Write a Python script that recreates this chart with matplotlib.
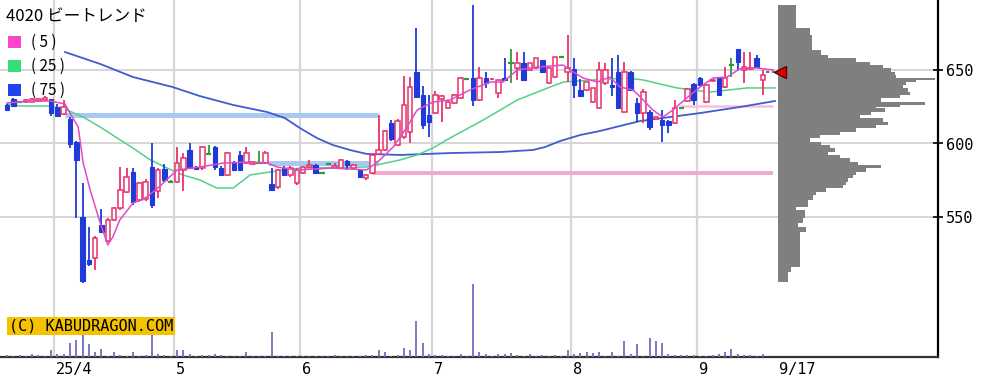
import matplotlib.pyplot as plt
from matplotlib.patches import Rectangle

plt.rcParams['font.family'] = ['Noto Sans CJK JP', 'DejaVu Sans']

W, H = 1003, 386

# daily candles (yen), oldest first
opens = [626, 630, 628, 628, 628.5, 629, 629.5, 630, 625, 620,
         617, 601, 550, 521, 522, 544.6, 534, 548, 556, 567,
         580.6, 561.6, 562, 584, 568, 582.7, 574, 574, 582, 595.6,
         584, 583.3, 593, 597.6, 583.3, 578.6, 586.7, 592.2, 586.7, 586,
         587, 586.7, 572.4, 570.4, 583.3, 578.6, 573.1, 580, 584, 585.4,
         580, 586, 583.5, 583.3, 588, 583.3, 582, 576.5, 580, 593,
         595.6, 614, 599, 604.4, 607.8, 648.6, 633, 619.4, 620.7, 630.5,
         624, 627.6, 631, 644, 644.6, 629.6, 644.6, 643.6, 634.4, 644.6,
         654.8, 651.4, 654.8, 650, 651.4, 656.8, 641.2, 645.2, 658.8, 648.6,
         650.7, 636.4, 636.4, 628.2, 624.1, 641.2, 639.8, 648.6, 621.4, 648.6,
         627.6, 620.7, 621.4, 617, 616, 615.3, 613.9, 624, 629, 640.5,
         644.6, 628.2, 642.8, 644.6, 638.4, 653.4, 664.3, 650, 650.7, 658.2,
         643.2]
highs = [627, 631, 628.5, 630.5, 631, 631, 632, 630.5, 627, 629.6,
         618, 601.5, 573, 543, 537, 555.4, 549, 557, 584, 583,
         583, 574, 576, 600, 583, 586, 575, 597.6, 593.5, 600,
         585, 598, 599, 598, 585, 594, 588, 595, 597.6, 588,
         595, 595, 583.3, 582.5, 585, 584.5, 583, 585, 588.8, 586,
         580.5, 586.5, 587, 589.5, 589, 586, 582.5, 579, 592.5, 619.4,
         609, 616, 617, 645.9, 645.2, 678.5, 639, 633, 636, 633,
         629, 634, 645, 644.5, 694, 652, 648.6, 644.5, 643.5, 658.2,
         664.3, 662, 662, 655, 658.5, 657, 652, 659, 659, 674,
         658.2, 643.9, 642, 638, 655.4, 655, 658, 660, 655.4, 649,
         631, 637, 622.8, 618.5, 622.8, 616, 629.6, 624.5, 637.5, 641,
         645, 640.5, 643.5, 645, 652, 658.2, 664.5, 662, 662.2, 660,
         650]
lows = [622, 625, 627.5, 627.5, 628, 628.5, 629, 619, 618, 619.5,
        597, 549, 505, 517, 514, 539, 533, 547, 555, 566,
        558, 560, 561, 556, 563, 574, 573, 573, 568, 583,
        582, 582, 592, 582, 578, 578, 582, 581, 586, 585.5,
        586.5, 586, 568, 569, 578, 577, 572, 579, 583.5, 579.5,
        579.5, 585.5, 583, 583, 582, 582, 577, 575, 579, 592.5,
        595, 602, 598, 603, 600.3, 631, 610, 604.4, 620, 614.6,
        623.5, 627, 630, 643.5, 625.5, 629, 637.8, 643.5, 631, 643,
        641.2, 643, 643, 649.5, 651, 648, 640.5, 644.5, 658.5, 641.8,
        631, 631.5, 636, 627.5, 623.5, 640, 632, 623.5, 620.5, 636,
        614.6, 614, 609.2, 616.5, 601, 607, 613.5, 623.5, 628.5, 626,
        639, 627.5, 643, 632, 638, 645, 650, 641, 650, 651.5,
        633]
closes = [623, 625.5, 628, 629.5, 630, 630.5, 631, 621, 618.7, 625,
          600, 589, 506.5, 518, 536, 540, 548, 556, 568.4, 577,
          560, 573, 574, 558, 582, 575, 574, 587, 590, 583.3,
          582.7, 597.6, 593, 584, 578.6, 593.5, 582, 582, 593.5, 587.4,
          587, 593.5, 568.4, 582, 578.6, 583.3, 582, 584, 585.4, 580,
          580, 586, 584.5, 588.8, 585.4, 585.4, 577.2, 578.6, 592.2, 595.6,
          608.5, 603.1, 615.3, 626.2, 638.4, 631.6, 612.6, 614.6, 633, 632,
          628.2, 633, 644.6, 644, 629.6, 644.6, 641.2, 644, 643.2, 643.2,
          654.8, 654.8, 643.2, 654.8, 658.2, 648.6, 651.4, 658.8, 658.8, 651.4,
          639.8, 632.3, 641.8, 637.8, 650, 650, 638.4, 624.1, 648.6, 636.4,
          620.7, 635, 611.2, 618, 612.6, 612.6, 624.1, 624, 637.1, 629.6,
          639.8, 639.8, 643.2, 633, 644.6, 653.4, 655.4, 652, 651.4, 652,
          646.6]
# volume (relative, thousand shares)
volume = [2, 1, 2, 1, 3, 2, 1, 7, 3, 3,
          14, 17, 22, 13, 5, 8, 1, 5, 2, 1,
          5, 1, 2, 22, 3, 2, 1, 7, 7, 3,
          1, 2, 2, 3, 2, 1, 1, 1, 5, 1,
          1, 1, 25, 1, 1, 1, 1, 1, 1, 1,
          1, 1, 2, 1, 1, 1, 1, 2, 2, 7,
          5, 1, 2, 9, 7, 36, 14, 3, 2, 2,
          1, 1, 3, 1, 73, 5, 3, 1, 3, 3,
          4, 2, 1, 3, 1, 2, 1, 2, 1, 7,
          3, 4, 5, 4, 5, 1, 5, 1, 16, 3,
          13, 1, 19, 16, 14, 3, 2, 2, 2, 2,
          1, 1, 2, 3, 5, 8, 3, 2, 2, 1,
          3]

# moving averages, sampled (day index, yen)
ma5_x = [0, 3.7, 6.8, 9.2, 10, 11.3, 12.1, 13.2, 14.8, 16, 16.8, 17.9, 20, 22.2, 24.3,
         27, 30.6, 34.3, 38.6, 41.3, 42.9, 46, 51.7, 57.1, 59.2, 61.3, 63.5, 65.1, 67.6,
         70.3, 73.5, 76.7, 78.7, 81, 84.1, 88.3, 89.4, 91.4, 93.7, 95.7, 97.3, 99.4, 101,
         102.5, 104.1, 105.7, 107.9, 110, 112.1, 114.3, 116.3, 119, 121.6]
ma5_y = [627.6, 628.9, 628.9, 626.9, 620.7, 611.2, 586.7, 568.4, 545.9, 531, 536.4, 548, 559.5, 563.6, 571.1,
         582, 584, 586.7, 587.4, 586.7, 584, 582, 583.3, 582, 588.8, 597.6, 611.2, 622.8, 628.2,
         629.6, 636.4, 641.8, 641.8, 650, 652, 653.4, 650, 644.6, 641.8, 645.2, 638.4, 636.4, 629.6,
         622.8, 618, 622.8, 631, 638.4, 644.6, 645.2, 650.7, 651.4, 650]
ma25_x = [0, 2.1, 6.8, 9.5, 12.1, 14.8, 17.5, 20, 22.7, 25.4, 27.9, 30.6, 33.3, 35.9, 38.6,
          41.7, 46.5, 57.1, 62.4, 65.1, 67.6, 70.3, 75.6, 81, 86.2, 88.3, 93, 98.4, 101,
          106.3, 111.6, 117.5, 121.9]
ma25_y = [626.9, 625.5, 625.5, 622.8, 618, 611.2, 603.7, 596.9, 589, 583.3, 578.6, 575.2, 569.7, 569.7, 578.6,
          580.6, 583.3, 584, 588.8, 592.2, 596.9, 603.7, 616, 629.6, 638.4, 641.8, 643.2, 644.6, 643.2,
          637.8, 635, 637.8, 637.8]
ma75_x = [9.2, 14.8, 20, 26.3, 30.6, 35.9, 41.3, 44.1, 46.5, 49.2, 51.7, 54.4, 57.1, 62.4,
          70.3, 78.3, 83.5, 85.4, 87.8, 91, 94.1, 100.5, 110, 116.3, 121.9]
ma75_y = [662.2, 654.1, 645.2, 638.4, 632.3, 626.2, 621.4, 617.3, 610.5, 603.7, 599, 595.6, 592.9, 592.2,
          593.5, 594.2, 595.6, 597.6, 601.7, 605.8, 608.5, 615.3, 620.7, 624.8, 628.9]

# horizontal levels: (start idx, end idx, price)
resist_levels = [(9.2, 58.9, 619.4), (41.4, 58.9, 586.7)]
support_levels = [(57.9, 121.6, 580.0), (106.8, 121.6, 625.5)]

# volume profile by price band (edges high -> low)
prof_edges = [694.2, 678.3, 673.8, 663.6, 660.2, 657.9, 655.7, 653.4, 651.1, 648.9,
              646.6, 644.3, 643.2, 642.1, 639.8, 637.5, 635.3, 633.0, 630.7, 628.5,
              626.2, 625.1, 623.9, 621.6, 619.4, 617.1, 614.9, 612.6, 610.3, 608.0,
              605.8, 603.5, 601.2, 599.0, 596.7, 594.4, 592.2, 589.9, 587.6, 585.4,
              583.1, 580.8, 578.6, 576.3, 574.0, 571.8, 569.5, 567.2, 565.0, 561.6,
              557.0, 554.8, 549.1, 545.7, 543.4, 540.0, 535.5, 516.2, 512.8, 506.0]
prof_vol = [18, 32, 34, 43, 50, 78, 92, 105, 113, 117,
            118, 157, 138, 128, 125, 130, 132, 122, 103, 147,
            122, 98, 107, 93, 82, 105, 110, 98, 78, 62,
            42, 32, 43, 52, 57, 50, 62, 72, 80, 103,
            88, 78, 75, 70, 68, 65, 48, 38, 35, 30,
            18, 27, 25, 20, 28, 22, 22, 13, 10]

month_start = [8, 27, 47, 68, 90, 110]
month_lbl = ['25/4', '5', '6', '7', '8', '9']
last_lbl = '9/17'
last_price = 648.8

RED = '#e8336a'
BLUE = '#1f3ad8'
GREEN = '#2f9a3a'

fig = plt.figure(figsize=(W / 100, H / 100), dpi=100)
ax_h = 357 / H
ax = fig.add_axes([0, 1 - ax_h, 938 / W, ax_h])
ax.set_xlim(-7 / 6.3, 931 / 6.3)
ax.set_ylim(650 - 287 / 1.47, 650 + 70 / 1.47)

# volume on its own scale, same box
vax = ax.twinx()
vax.set_ylim(0, max(volume) * 357 / 73)
vax.vlines(range(len(volume)), 0, volume, color='#6e6ec6', lw=1.3)
vax.axis('off')

# grid
for m in month_start:
    ax.axvline(m - 0.5, color='#d6d6d6', lw=1.6, zorder=0)
for p in [550, 600, 650]:
    ax.axhline(p, color='#d6d6d6', lw=1.4, zorder=0)

for x0, x1, p in resist_levels:
    ax.hlines(p, x0, x1, color='#a9c9f2', lw=3.6, zorder=1)
ax.hlines(support_levels[0][2], support_levels[0][0], support_levels[0][1], color='#f4a6cb', lw=2.8, zorder=1)
ax.hlines(support_levels[1][2], support_levels[1][0], support_levels[1][1], color='#f6c0da', lw=1.8, zorder=1)

ax.plot(ma75_x, ma75_y, color='#3f5cd0', lw=1.3, zorder=2)
ax.plot(ma25_x, ma25_y, color='#55d088', lw=1.1, zorder=2)

# candles
for i in range(len(opens)):
    o, h, l, c = opens[i], highs[i], lows[i], closes[i]
    if c > o:
        col = RED
    elif c < o:
        col = BLUE
    else:
        col = GREEN
    ax.vlines(i, l, h, color=col, lw=1.3, zorder=3)
    if c > o:
        ax.bar(i, c - o, bottom=o, width=0.72, facecolor='white', edgecolor=RED, lw=1.1, zorder=4)
    elif c < o:
        ax.bar(i, o - c, bottom=c, width=0.72, facecolor=BLUE, edgecolor=BLUE, lw=0.8, zorder=4)
    else:
        ax.hlines(o, i - 0.4, i + 0.4, color=GREEN, lw=1.6, zorder=4)

ax.plot(ma5_x, ma5_y, color='#e04ac8', lw=1.1, zorder=5)
ax.hlines(last_price, 120.5, 122.2, color='#555555', lw=1.2, linestyles=(0, (2, 1.5)), zorder=5)

for s in ['top', 'left']:
    ax.spines[s].set_visible(False)
ax.spines['right'].set_linewidth(1.6)
ax.spines['bottom'].set_linewidth(1.6)
ax.spines['bottom'].set_color('#333333')
ax.yaxis.tick_right()
ax.set_yticks([550, 600, 650])
ax.set_yticklabels(['550', '600', '650'], fontsize=11, family='DejaVu Sans Mono')
ax.tick_params(axis='y', direction='inout', length=7, width=1.2, pad=2)
ax.set_xticks([])
lbl_y = 650 - (362 - 70) / 1.47
for m, t in zip(month_start, month_lbl):
    ax.text(m - 0.2, lbl_y, t, fontsize=11, family='DejaVu Sans Mono', ha='left', va='top', clip_on=False)
ax.text(122.6, lbl_y, last_lbl, fontsize=11, family='DejaVu Sans Mono', ha='left', va='top', clip_on=False)

# volume profile
pax = fig.add_axes([778 / W, 1 - ax_h, 160 / W, ax_h])
pax.set_ylim(ax.get_ylim())
pax.set_xlim(0, 160)
pax.stairs(prof_vol[::-1], prof_edges[::-1], orientation='horizontal', fill=True, color='#7f7f7f')
pax.plot([2.5], [last_price], marker='<', ms=8, mfc='#e00000', mec='#5a0000', mew=1, clip_on=False)
pax.axis('off')

# title, legend, credit
def fx(x):
    return x / W

def fy(y):
    return 1 - y / H

fig.text(fx(6), fy(17), '4020 ビートレンド', fontsize=12, va='center', ha='left')
for yy, col, lab in [(42, '#ff44cc', '( 5 )'), (66, '#33dd77', '( 25 )'), (90, '#2244ee', '( 75 )')]:
    fig.patches.append(Rectangle((fx(8), fy(yy + 6)), 13 / W, 12 / H, transform=fig.transFigure,
                                 facecolor=col, edgecolor='none'))
    fig.text(fx(31), fy(yy), lab, fontsize=11, va='center', ha='left')

fig.text(fx(9), fy(326), '(C) KABUDRAGON.COM', fontsize=11, family='DejaVu Sans Mono', va='center', ha='left',
         bbox=dict(boxstyle='square,pad=0.12', facecolor='#f5c200', edgecolor='none'))

fig.savefig('out.png', dpi=100)
